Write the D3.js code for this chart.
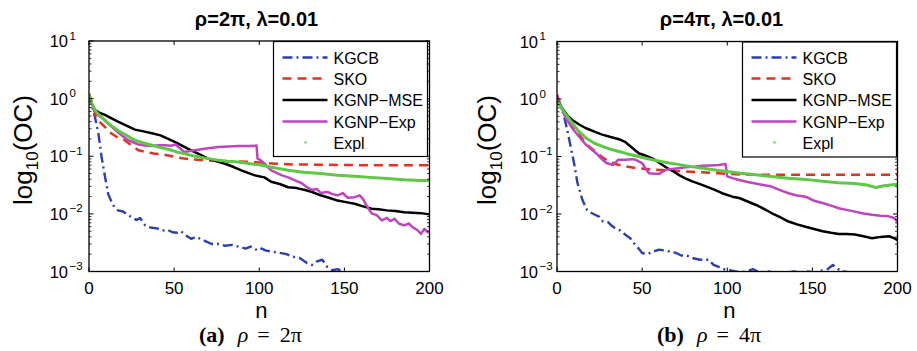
<!DOCTYPE html>
<html><head><meta charset="utf-8">
<script src="https://cdn.jsdelivr.net/npm/d3@7"></script>
<style>body{margin:0;background:#fff}svg{display:block}</style>
</head><body>
<svg id="c" width="917" height="351"></svg>
<script>
// ---------- data ----------
const seriesNames = ["KGCB", "SKO", "KGNP\u2212MSE", "KGNP\u2212Exp", "Expl"];
const xTicks = [0, 50, 100, 150, 200];
const yExponents = [1, 0, -1, -2, -3];
const panelTitles = ["\u03C1=2\u03C0, \u03BB=0.01", "\u03C1=4\u03C0, \u03BB=0.01"];
const captionLetters = ["(a)", "(b)"];
const captionValues = ["2\u03C0", "4\u03C0"];

// panel (a): rho = 2pi   [n, OC]
const kgcbA = [[0,1.2],[1,1.0],[2,0.7],[3.5,0.48],[5.5,0.25],[7.4,0.097],[9.4,0.044],[11.3,0.022],[13.3,0.016],[15,0.013],[17,0.0115],[20,0.011],[23,0.0095],[25,0.0088],[28,0.0078],[30,0.0085],[33,0.0063],[36,0.0058],[40,0.0056],[43,0.0051],[46,0.0053],[49,0.0048],[52,0.0047],[54,0.0050],[57,0.0042],[60,0.0037],[63,0.0040],[66,0.0036],[69,0.0033],[72,0.0030],[76,0.0030],[80,0.0028],[84,0.0029],[88,0.0027],[92,0.0025],[95,0.0027],[98,0.0024],[100,0.0026],[104,0.0023],[108,0.0022],[112,0.0021],[116,0.0020],[120,0.0018],[124,0.0017],[128,0.0014],[131,0.0013],[134,0.0015],[137,0.0016],[140,0.0012],[143,0.00105],[146,0.0011],[150,0.00095],[153,0.001],[156,0.00085],[160,0.0008],[170,0.0007],[185,0.0006],[200,0.0005]];
const skoA = [[0,1.2],[2,0.8],[4,0.5],[5.5,0.42],[9.4,0.32],[13,0.25],[17,0.21],[21,0.19],[25,0.155],[29,0.127],[33,0.119],[38,0.112],[43,0.108],[50,0.098],[56,0.091],[66,0.086],[76,0.083],[86,0.081],[94,0.08],[100,0.078],[110,0.074],[120,0.072],[140,0.071],[160,0.07],[180,0.07],[200,0.07]];
const mseA = [[0,1.2],[1,0.9],[3.5,0.63],[6,0.57],[9.4,0.52],[13,0.46],[17,0.4],[22,0.34],[27,0.29],[32,0.27],[37,0.25],[42,0.23],[46.5,0.2],[50,0.18],[52.4,0.166],[56,0.145],[60,0.127],[65,0.108],[70,0.091],[75,0.082],[80,0.074],[85,0.065],[89.5,0.057],[93,0.052],[97,0.047],[103,0.043],[107,0.036],[112,0.033],[117,0.029],[122,0.028],[127,0.026],[131,0.024],[136,0.021],[141,0.019],[146,0.017],[151,0.016],[156,0.015],[161,0.0135],[166,0.0123],[170,0.012],[175,0.0115],[180,0.0112],[185,0.0107],[190,0.0105],[195,0.0103],[200,0.0098]];
const expA = [[0,1.2],[1,0.9],[3.5,0.63],[6,0.5],[9.4,0.42],[13,0.33],[17,0.26],[20,0.22],[23,0.19],[26,0.175],[29,0.16],[33,0.153],[37,0.15],[41,0.155],[45,0.155],[48,0.152],[51,0.16],[53,0.14],[56,0.119],[60,0.125],[64,0.13],[70,0.138],[76,0.145],[82,0.148],[88,0.15],[93,0.151],[98.4,0.153],[99,0.091],[101,0.085],[103,0.075],[105,0.065],[107,0.057],[110,0.052],[113,0.047],[117,0.043],[121,0.038],[125,0.034],[128,0.029],[131,0.026],[134,0.027],[136,0.023],[140,0.024],[143,0.022],[146,0.021],[149,0.023],[152,0.019],[156,0.0195],[159,0.021],[161,0.018],[163,0.014],[166,0.0102],[169,0.0095],[172,0.0077],[175,0.0085],[177,0.0075],[179.5,0.0082],[182,0.0068],[185,0.0063],[188,0.0068],[190,0.0059],[193,0.0052],[195,0.0045],[197,0.0055],[199,0.0048],[200,0.005]];
const explA = [[0,1.2],[1,0.9],[3.5,0.63],[6,0.52],[9.4,0.42],[13,0.34],[17,0.28],[22,0.23],[27,0.19],[32,0.17],[37,0.155],[42,0.142],[46.5,0.132],[51,0.12],[56,0.111],[61,0.102],[66,0.095],[71,0.09],[76,0.085],[81,0.082],[86,0.08],[91,0.077],[95,0.074],[100,0.071],[108,0.064],[117,0.057],[126,0.053],[136,0.05],[146,0.047],[156,0.045],[165,0.043],[175,0.041],[185,0.039],[195,0.038],[200,0.038]];

// panel (b): rho = 4pi
const kgcbB = [[0,1.0],[2,0.8],[3.1,0.65],[4.5,0.45],[6,0.29],[8,0.15],[10,0.077],[12,0.035],[14.9,0.0177],[17.6,0.0118],[20,0.0105],[22,0.0098],[24.7,0.009],[27,0.0074],[30,0.0072],[32,0.0063],[34.4,0.0056],[37,0.0052],[40,0.0044],[43,0.0038],[46,0.0029],[48,0.0025],[50,0.0021],[53,0.0020],[56,0.0022],[60,0.0024],[64,0.0023],[67,0.0022],[70,0.0021],[73,0.0019],[76,0.0019],[80,0.0017],[84,0.0016],[89,0.0016],[92,0.0013],[95,0.0012],[99,0.00107],[103,0.00103],[107,0.00097],[111,0.001],[115,0.0011],[119,0.00096],[124,0.001],[128,0.00094],[131,0.00098],[135,0.00095],[139,0.001],[143,0.00097],[147,0.001],[151,0.00096],[155,0.00103],[159,0.0011],[162,0.0013],[165,0.0011],[168,0.00102],[172,0.00095],[178,0.0009],[185,0.00088],[192,0.00093],[198,0.00098],[200,0.00095]];
const skoB = [[0,1.2],[2,0.8],[5,0.5],[9,0.33],[13,0.24],[16.8,0.17],[20,0.14],[22.6,0.122],[26,0.1],[30.5,0.082],[36,0.072],[41,0.067],[46,0.063],[56,0.059],[66,0.057],[75.5,0.055],[85,0.053],[95,0.051],[105,0.049],[120,0.048],[140,0.048],[160,0.048],[180,0.048],[200,0.048]];
const mseB = [[0,0.9],[3,0.69],[6,0.52],[9,0.43],[13,0.36],[17,0.31],[22,0.27],[26.6,0.24],[31,0.22],[36.4,0.2],[40,0.18],[42,0.16],[45,0.135],[48,0.114],[52,0.103],[56,0.093],[60,0.078],[64,0.065],[68,0.056],[71.5,0.048],[75,0.042],[79.5,0.037],[84,0.033],[89,0.029],[93,0.026],[97,0.023],[103,0.02],[107,0.019],[112,0.0165],[116.6,0.0145],[121,0.0125],[126,0.0104],[131,0.0088],[136,0.0074],[141,0.0066],[146,0.006],[151,0.0055],[156,0.005],[161,0.0047],[165.5,0.0045],[170,0.0045],[175,0.0044],[180,0.0041],[185,0.0038],[190,0.004],[195,0.0041],[198,0.0038],[200,0.0035]];
const expB = [[0,1.1],[3,0.69],[5,0.47],[9,0.31],[13,0.22],[17,0.16],[20,0.135],[23,0.114],[26,0.092],[29,0.077],[33,0.071],[36,0.088],[40,0.088],[44,0.09],[46,0.088],[50,0.077],[52,0.062],[54,0.051],[57,0.05],[60,0.05],[64,0.059],[70,0.062],[75.5,0.065],[80,0.066],[85,0.069],[90,0.07],[95,0.071],[99,0.074],[100,0.045],[103,0.042],[107,0.039],[112,0.036],[116.6,0.034],[121,0.032],[126,0.030],[131,0.026],[136,0.023],[141,0.021],[146,0.02],[151,0.017],[156,0.0155],[161,0.014],[165.5,0.0126],[170,0.0118],[175,0.011],[180,0.0102],[185,0.0097],[190,0.0093],[195,0.0091],[198,0.0085],[200,0.0074]];
const explB = [[0,0.95],[3,0.66],[6,0.5],[9,0.38],[13,0.27],[17,0.21],[22,0.17],[26.6,0.15],[31,0.135],[36.4,0.122],[41,0.112],[46,0.103],[51,0.095],[56,0.088],[61,0.082],[66,0.077],[71,0.073],[75.5,0.069],[80,0.066],[85,0.063],[90,0.06],[95,0.057],[100,0.055],[108,0.051],[116.6,0.048],[126,0.045],[136,0.042],[146,0.04],[156,0.037],[165,0.035],[175,0.034],[182,0.032],[187,0.029],[192,0.031],[200,0.033]];

// ---------- styles / layout ----------
const seriesStyles = [
  {color: "#2b3fae", dash: "10,4,2,4", width: 2.4},
  {color: "#e8301f", dash: "9,6", width: 2.5},
  {color: "#000000", dash: null, width: 2.5},
  {color: "#bf45bf", dash: null, width: 2.5},
  {color: "#5dc843", dash: null, width: 3}
];
const panels = [
  {x0: 89, x1: 429.5, y0: 41, y1: 271.5, data: [kgcbA, skoA, mseA, expA, explA],
   titleX: 256.5, ylabX: 32, tickGap: 21, legX: 273.5, capX: 199},
  {x0: 557, x1: 897.5, y0: 41.5, y1: 271.5, data: [kgcbB, skoB, mseB, expB, explB],
   titleX: 721.5, ylabX: 496, tickGap: 19, legX: 742.5, capX: 657}
];

const svg = d3.select("#c");
svg.append("rect").attr("width", 917).attr("height", 351).attr("fill", "#fff");
const sans = "'Liberation Sans', Arial, Helvetica, sans-serif";
const serif = "'Liberation Serif', 'Times New Roman', serif";

panels.forEach((p, pi) => {
  const x = d3.scaleLinear().domain([0, 200]).range([p.x0, p.x1]);
  const y = d3.scaleLog().domain([1e-3, 10]).range([p.y1, p.y0]);
  const g = svg.append("g");

  const clipId = "clip" + pi;
  svg.append("clipPath").attr("id", clipId).append("rect")
    .attr("x", p.x0).attr("y", p.y0).attr("width", p.x1 - p.x0).attr("height", p.y1 - p.y0);

  // curves
  const line = d3.line().x(d => x(d[0])).y(d => y(d[1]));
  const cg = g.append("g").attr("clip-path", `url(#${clipId})`);
  p.data.forEach((s, si) => {
    const st = seriesStyles[si];
    cg.append("path").datum(s).attr("d", line)
      .attr("fill", "none").attr("stroke", st.color).attr("stroke-width", st.width)
      .attr("stroke-dasharray", st.dash).attr("stroke-linejoin", "round");
  });

  // axes box
  g.append("rect").attr("x", p.x0).attr("y", p.y0).attr("width", p.x1 - p.x0).attr("height", p.y1 - p.y0)
    .attr("fill", "none").attr("stroke", "#000").attr("stroke-width", 1.3);

  // ticks (inward, all four sides)
  const ax = g.append("g").attr("stroke", "#000").attr("stroke-width", 1);
  xTicks.forEach(t => {
    ax.append("line").attr("x1", x(t)).attr("x2", x(t)).attr("y1", p.y1).attr("y2", p.y1 - 4);
    ax.append("line").attr("x1", x(t)).attr("x2", x(t)).attr("y1", p.y0).attr("y2", p.y0 + 4);
  });
  const minor = [];
  for (let e = -3; e < 1; e++) for (let k = 2; k <= 9; k++) minor.push(k * Math.pow(10, e));
  minor.forEach(v => {
    ax.append("line").attr("x1", p.x0).attr("x2", p.x0 + 2.5).attr("y1", y(v)).attr("y2", y(v)).attr("stroke-width", 0.8);
    ax.append("line").attr("x1", p.x1).attr("x2", p.x1 - 2.5).attr("y1", y(v)).attr("y2", y(v)).attr("stroke-width", 0.8);
  });
  yExponents.forEach(e => {
    const v = Math.pow(10, e);
    ax.append("line").attr("x1", p.x0).attr("x2", p.x0 + 4.5).attr("y1", y(v)).attr("y2", y(v));
    ax.append("line").attr("x1", p.x1).attr("x2", p.x1 - 4.5).attr("y1", y(v)).attr("y2", y(v));
  });

  // tick labels
  xTicks.forEach(t => {
    g.append("text").attr("x", x(t)).attr("y", 294).attr("text-anchor", "middle")
      .attr("font-family", sans).attr("font-size", 17).text(t);
  });
  yExponents.forEach(e => {
    const yy = y(Math.pow(10, e));
    g.append("text").attr("x", p.x0 - p.tickGap).attr("y", yy + 6).attr("text-anchor", "end")
      .attr("font-family", sans).attr("font-size", 16.5).text("10");
    g.append("text").attr("x", p.x0 - p.tickGap + 1.5).attr("y", yy - 1.5).attr("text-anchor", "start")
      .attr("font-family", sans).attr("font-size", 11.5).text(e < 0 ? "\u2212" + (-e) : String(e));
  });

  // title
  g.append("text").attr("x", p.titleX).attr("y", 26).attr("text-anchor", "middle")
    .attr("font-family", sans).attr("font-size", 20).attr("font-weight", "bold").text(panelTitles[pi]);

  // axis labels
  g.append("text").attr("x", (p.x0 + p.x1) / 2 + 2).attr("y", 318).attr("text-anchor", "middle")
    .attr("font-family", sans).attr("font-size", 22).text("n");
  const yl = g.append("text").attr("transform", `translate(${p.ylabX},150) rotate(-90)`)
    .attr("text-anchor", "middle").attr("font-family", sans).attr("font-size", 26);
  yl.append("tspan").text("log");
  yl.append("tspan").attr("font-size", 17).attr("dy", 6).text("10");
  yl.append("tspan").attr("dy", -6).text("(OC)");

  // legend
  const lw = 154, lh = 115;
  const lg = g.append("g");
  lg.append("rect").attr("x", p.legX).attr("y", p.y0 + 0.5).attr("width", lw).attr("height", lh)
    .attr("fill", "#fff").attr("stroke", "#000").attr("stroke-width", 1.2);
  const rowY = [57.5, 78.5, 100, 121.5, 142.5];
  seriesNames.forEach((name, si) => {
    const st = seriesStyles[si];
    const ly = rowY[si];
    if (si < 4) {
      lg.append("line").attr("x1", p.legX + 9).attr("x2", p.legX + 54).attr("y1", ly).attr("y2", ly)
        .attr("stroke", st.color).attr("stroke-width", st.width).attr("stroke-dasharray", st.dash);
    } else {
      lg.append("rect").attr("x", p.legX + 31).attr("y", ly - 1).attr("width", 2).attr("height", 2)
        .attr("fill", st.color);
    }
    lg.append("text").attr("x", p.legX + 60).attr("y", ly + 6).attr("font-family", sans)
      .attr("font-size", 16).text(name);
  });

  // caption
  const cap = g.append("text").attr("x", p.capX).attr("y", 342).attr("font-family", serif).attr("font-size", 22);
  cap.append("tspan").attr("font-weight", "bold").text(captionLetters[pi]);
  cap.append("tspan").attr("dx", 13).attr("font-style", "italic").text("\u03C1");
  cap.append("tspan").attr("dx", 9).text("=");
  cap.append("tspan").attr("dx", 10).text(captionValues[pi]);
});
</script>
</body></html>
